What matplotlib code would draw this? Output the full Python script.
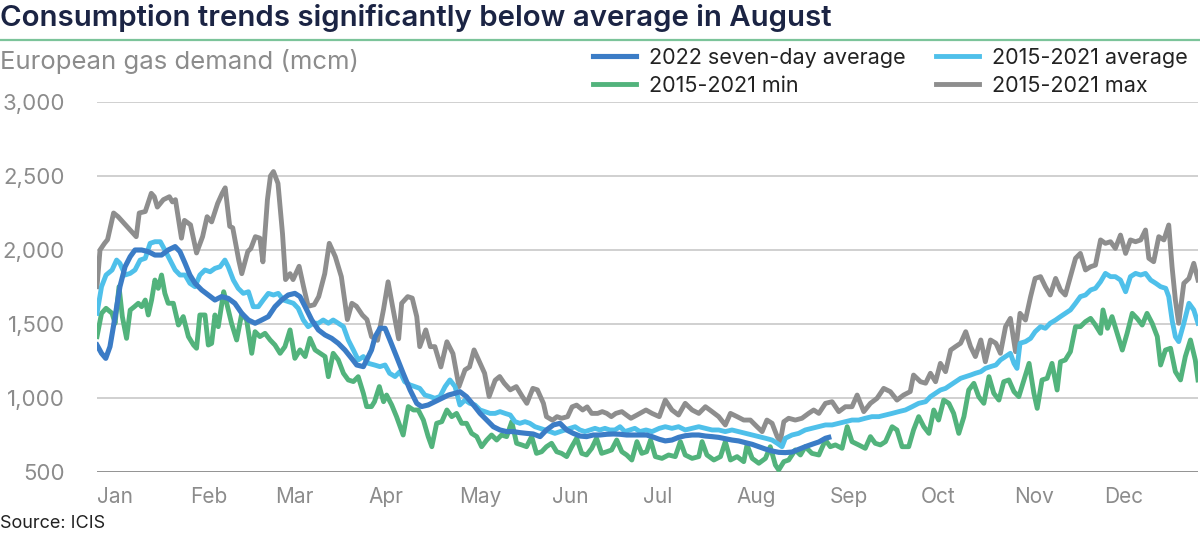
import matplotlib.pyplot as plt

plt.rcParams['font.family'] = ['Inter', 'DejaVu Sans']

titulo = "Consumption trends significantly below average in August"
subtitulo = "European gas demand (mcm)"
fuente = "Source: ICIS"
meses = ["Jan", "Feb", "Mar", "Apr", "May", "Jun", "Jul", "Aug", "Sep", "Oct", "Nov", "Dec"]
inicio_mes = [0, 31, 59, 90, 120, 151, 181, 212, 243, 273, 304, 334]
y_ticks = [500, 1000, 1500, 2000, 2500, 3000]

# 2015-2021 max (dia del año, mcm)
max_dias = [0, 1, 2.5, 3.5, 5.5, 7, 9, 11, 13, 14, 16, 18, 19, 20, 22, 24, 25, 26, 28, 29,
            31, 33, 35, 36.5, 38, 40, 41.5, 42.5, 44, 45, 47, 48, 50, 51, 52.5, 54, 55, 56.5, 57.5, 58.5,
            60, 61.5, 62.5, 64, 65, 67, 68.5, 70, 72, 73.5, 75.5, 77, 79, 81, 83, 84.5, 86, 88, 89.5, 91,
            93, 95, 96.5, 98, 100, 101, 103, 104.5, 106, 107, 109, 110.5, 112, 114, 116, 118, 120, 122, 123.5, 125,
            127, 128.5, 130, 132, 133.5, 135, 137, 139, 141, 142.5, 144.5, 146, 148, 149, 151, 152.5, 154, 156, 157.5, 159,
            161, 162.5, 164, 166, 167.5, 169, 170.5, 172, 174, 175.5, 177, 179, 181, 182, 184, 186.4, 188.4, 190.6, 192.8, 195,
            197.3, 199.5, 201.7, 203.9, 206.1, 208.3, 210, 212.2, 214.4, 216.6, 218.8, 220.5, 222.1, 223.8, 225.5, 226.5, 227.7, 229.3, 231.5, 233.7,
            235.9, 237.6, 239.3, 241.5, 243.7, 245.9, 248.1, 250.3, 252, 254.2, 256.4, 258.6, 260.8, 263, 265.2, 267.4, 269.6, 270.7, 273, 274.7,
            276.3, 278, 279.6, 281.3, 283, 284.6, 286.3, 288, 289.6, 291.2, 293, 294.5, 296.2, 298, 299.5, 301.2, 302.8, 304.5, 306, 307.8,
            309.5, 311, 312.8, 314.4, 316, 317.8, 319.4, 321, 322.7, 324.4, 326, 327.7, 329.4, 331, 332.7, 334.3, 336, 337.6, 339.3, 341,
            342.6, 344.3, 346, 347.6, 348.7, 350.3, 352, 353.7, 355.3, 356.4, 357.5, 358.6, 360.3, 362, 363.6, 365]
max_vals = [1752, 2000, 2045, 2070, 2250, 2225, 2180, 2135, 2090, 2250, 2260, 2383, 2360, 2290, 2340, 2360, 2325, 2340, 2080, 2200,
            2170, 1980, 2090, 2225, 2190, 2315, 2383, 2420, 2160, 2150, 1930, 1840, 1990, 2010, 2090, 2080, 1920, 2340, 2500, 2530,
            2450, 2110, 1800, 1840, 1800, 1890, 1750, 1620, 1630, 1685, 1840, 2045, 1955, 1820, 1530, 1640, 1620, 1560, 1530, 1415,
            1390, 1600, 1785, 1617, 1400, 1640, 1685, 1675, 1550, 1347, 1460, 1347, 1347, 1210, 1380, 1300, 1077, 1190, 1210, 1325,
            1235, 1167, 1010, 1120, 1145, 1100, 1055, 1077, 1010, 964, 1065, 1055, 964, 874, 850, 874, 863, 874, 940, 952,
            919, 940, 896, 896, 908, 896, 874, 896, 908, 885, 863, 885, 908, 919, 896, 874, 986, 919, 885, 964,
            919, 896, 941, 908, 874, 818, 896, 874, 851, 851, 806, 773, 851, 829, 739, 705, 840, 863, 851, 863,
            896, 919, 896, 964, 975, 908, 941, 941, 1020, 908, 964, 998, 1065, 1043, 986, 1020, 1043, 1155, 1110, 1100,
            1167, 1110, 1234, 1178, 1324, 1347, 1370, 1448, 1347, 1280, 1392, 1245, 1392, 1370, 1302, 1482, 1538, 1313, 1572, 1527,
            1685, 1808, 1820, 1752, 1696, 1808, 1730, 1696, 1820, 1944, 1977, 1865, 1887, 1898, 2068, 2045, 2056, 2011, 2101, 1977,
            2068, 2056, 2068, 2135, 1944, 1921, 2090, 2068, 2169, 1887, 1662, 1505, 1775, 1808, 1910, 1797]

# 2015-2021 average
avg_dias = [0, 1.5, 3, 5, 6.5, 7.6, 9.3, 11, 12.6, 14.3, 16, 17.6, 19.2, 21, 22.5, 24.2, 25.9, 27.5, 29.2, 30.8,
            32.5, 34.1, 35.8, 37.5, 39.1, 40.8, 42.4, 43.5, 45.2, 46.8, 48.5, 50.2, 51.8, 53.5, 55.1, 56.8, 58.5, 60.1, 61.8, 63.4,
            65.1, 66.7, 68.4, 70, 71.7, 73.4, 75, 76.7, 78.3, 80, 81.7, 83.3, 85, 86.6, 88.3, 90, 92, 93.8, 95.5, 97,
            98.8, 100.4, 102, 103.8, 105.4, 107, 108.7, 110.4, 112, 113.7, 115.4, 117, 118.7, 120.3, 122, 123.6, 125.3, 127, 128.6, 130.3,
            132, 133.6, 135.3, 137, 138.6, 140.2, 141.9, 143.5, 145.2, 146.9, 148.5, 150.2, 151.8, 153.5, 155.1, 156.8, 158.5, 160.1, 161.8, 163.4,
            165.1, 166.7, 168.4, 170, 171.7, 173.4, 175, 176.7, 178.3, 180, 182, 184, 186.4, 188.4, 190.6, 192.8, 195, 197.3, 199.5, 201.7,
            203.9, 206.1, 208.3, 210.5, 212.7, 215, 217.2, 219.4, 221.6, 223.8, 225.5, 227.1, 228.2, 230.4, 232.6, 234.8, 237, 239.3, 241.5, 243.7,
            245.9, 248.1, 250.3, 252.5, 254.7, 256.9, 259.2, 261.4, 263.6, 265.8, 268, 270.2, 272.4, 274.7, 276.3, 278, 279.6, 281.3, 283, 284.6,
            286.3, 288, 289.6, 291.2, 293, 294.5, 296.2, 298, 299.5, 301.2, 302.8, 304, 305, 306, 307.8, 309.5, 311, 312.8, 314.4, 316,
            317.8, 319.4, 321, 322.7, 324.4, 326, 327.7, 329.4, 331, 332.7, 334.3, 336, 337.6, 339.3, 341, 342.6, 344.3, 346, 347.6, 349.3,
            351, 352.6, 354.3, 355.3, 356.4, 357.5, 358.6, 360.3, 362, 363.6, 365]
avg_vals = [1572, 1752, 1831, 1865, 1932, 1910, 1831, 1842, 1865, 1932, 1944, 2045, 2056, 2056, 2000, 1932, 1865, 1831, 1831, 1775,
            1752, 1831, 1865, 1853, 1876, 1887, 1932, 1887, 1797, 1741, 1707, 1718, 1617, 1617, 1662, 1707, 1696, 1707, 1662, 1651,
            1640, 1606, 1527, 1482, 1505, 1505, 1527, 1505, 1527, 1505, 1482, 1392, 1324, 1257, 1280, 1234, 1223, 1212, 1223, 1167,
            1145, 1178, 1110, 1088, 1077, 1065, 1020, 1010, 998, 1010, 1077, 1122, 1077, 953, 986, 964, 953, 919, 908, 896,
            896, 908, 896, 885, 840, 829, 840, 829, 806, 795, 784, 773, 761, 773, 784, 795, 806, 784, 773, 784,
            795, 784, 795, 784, 784, 806, 773, 784, 795, 773, 784, 773, 795, 806, 795, 806, 784, 795, 806, 795,
            784, 784, 773, 784, 773, 761, 750, 739, 728, 716, 694, 671, 728, 750, 761, 784, 795, 806, 818, 818,
            829, 840, 851, 851, 863, 874, 874, 885, 896, 908, 919, 941, 964, 975, 1009, 1032, 1054, 1065, 1088, 1110,
            1133, 1144, 1155, 1167, 1178, 1200, 1212, 1223, 1257, 1280, 1302, 1234, 1200, 1370, 1381, 1403, 1448, 1482, 1471, 1505,
            1527, 1550, 1572, 1595, 1640, 1685, 1696, 1730, 1741, 1786, 1842, 1820, 1820, 1797, 1718, 1820, 1842, 1831, 1842, 1797,
            1775, 1752, 1741, 1685, 1527, 1414, 1381, 1505, 1640, 1595, 1505]

# 2015-2021 min
min_dias = [0, 1.5, 3, 5, 6, 7.3, 8.4, 9.8, 11, 12.4, 13.7, 14.8, 16, 17, 18.1, 19.2, 20.3, 21.4, 22.5, 23.6,
            25.3, 27, 28.6, 30.3, 32, 33, 34.1, 35.8, 36.9, 38, 39.1, 40.2, 42, 43, 44.6, 46.3, 48, 49.6, 51.3, 52.4,
            54, 55.7, 57.4, 59, 60.7, 62.3, 64, 65.6, 67.3, 69, 70.6, 72.3, 74, 75.6, 76.7, 78.3, 80, 81.7, 83.3, 85,
            86.6, 88.3, 89.4, 91, 92, 93.6, 95, 96, 97.7, 99.3, 101.5, 103.2, 104.9, 106.5, 108.2, 109.8, 111, 112.6, 114.3, 116,
            117.6, 119.2, 120.9, 122.5, 124.2, 125.9, 127.5, 129.2, 130.8, 132.5, 134.1, 135.8, 137.5, 139.1, 140.8, 142.4, 144.1, 145.7, 147.4, 149,
            150.7, 152.4, 154, 155.7, 157.4, 159, 160.7, 162.3, 164, 165.6, 167.3, 169, 170.6, 172.3, 174, 175.6, 177.3, 179, 180.6, 182.2,
            183.5, 185.1, 187.3, 189.5, 191.7, 193.4, 195, 197.3, 199.5, 200.6, 202.2, 204.5, 206.7, 208.3, 210, 212.2, 214.4, 215.5, 217.2, 219.4,
            221.6, 223.2, 224.9, 226, 227.7, 229.3, 231.5, 233.2, 234.8, 237, 239.3, 241.5, 243.1, 244.8, 247, 248.7, 250.3, 252.5, 254.7, 256.4,
            258, 259.7, 261.4, 263.6, 265.2, 266.9, 269.1, 270.7, 272.4, 274.1, 275.8, 277.4, 279, 280.7, 282.4, 284, 285.7, 287.4, 289, 290.7,
            292.3, 294, 295.7, 297.3, 299, 300.6, 302.3, 304, 305.6, 307.3, 309, 310.6, 311.7, 313.3, 315, 316.6, 318.3, 319.4, 321, 322.7,
            324.4, 326, 327.7, 329.4, 331, 332.7, 333.5, 335, 336.5, 338.2, 339.9, 341.5, 343.2, 344.8, 346.5, 348.1, 349.8, 351.5, 352.6, 354.2,
            355.9, 357.5, 359.2, 360.8, 362.5, 364.1, 365]
min_vals = [1415, 1572, 1606, 1572, 1505, 1752, 1550, 1403, 1594, 1617, 1640, 1617, 1662, 1561, 1662, 1797, 1741, 1831, 1707, 1640,
            1640, 1493, 1550, 1415, 1358, 1336, 1561, 1561, 1358, 1369, 1561, 1482, 1718, 1640, 1505, 1392, 1572, 1527, 1302, 1448,
            1415, 1437, 1392, 1358, 1302, 1347, 1460, 1268, 1325, 1280, 1403, 1325, 1302, 1280, 1144, 1302, 1257, 1167, 1122, 1111,
            1144, 1032, 942, 942, 975, 1077, 975, 1020, 953, 874, 750, 942, 919, 919, 851, 739, 671, 829, 840, 919,
            874, 896, 829, 829, 761, 739, 671, 716, 750, 716, 750, 739, 840, 694, 683, 671, 739, 626, 637, 671,
            694, 637, 626, 604, 671, 728, 626, 615, 660, 728, 626, 637, 649, 716, 637, 615, 581, 705, 626, 637,
            716, 604, 592, 615, 604, 705, 615, 592, 604, 705, 615, 581, 604, 705, 581, 604, 570, 683, 592, 559,
            592, 671, 547, 514, 570, 581, 649, 615, 671, 626, 615, 716, 671, 683, 660, 806, 705, 683, 660, 739,
            694, 683, 705, 806, 784, 671, 671, 784, 874, 806, 761, 919, 851, 986, 964, 896, 761, 874, 1054, 1099,
            1009, 964, 1144, 1032, 986, 1110, 1122, 1043, 1009, 1122, 1234, 1032, 930, 1122, 1133, 1234, 1054, 1245, 1257, 1313,
            1482, 1482, 1516, 1538, 1493, 1437, 1595, 1471, 1550, 1437, 1324, 1437, 1572, 1538, 1493, 1572, 1505, 1415, 1223, 1324,
            1336, 1178, 1122, 1280, 1392, 1257, 1122]

# 2022 seven-day average
d2022_dias = [0, 1.5, 2.9, 4.3, 6, 7.6, 9.3, 11, 12.6, 14.8, 17, 19.2, 21.4, 23.6, 25.9, 27.5, 29.2, 30.8, 32.5, 34.7,
              36.9, 39.1, 41.3, 43.5, 45.7, 48, 50.2, 52.4, 54.6, 56.8, 59, 61.2, 63.4, 65.6, 67.3, 69, 71.2, 73.4, 75.6, 77.8,
              80, 82.2, 84.4, 86.1, 88.3, 89.4, 91, 92.2, 93.8, 95.5, 97.1, 99.3, 101.5, 103.8, 106, 107.6, 109.8, 112, 114.3, 116.5,
              118.7, 120.3, 122.5, 124.8, 127, 129.2, 131.4, 133.6, 135.8, 138, 140.2, 142.4, 144.6, 146.9, 149, 151.3, 153.5, 155.7, 157.9, 160.1,
              162.3, 164.5, 166.7, 169, 171.2, 173.4, 175.6, 177.8, 180, 182.2, 184, 186.4, 188.4, 190.6, 192.8, 195, 197.3, 199.5, 201.7, 203.9,
              206.1, 208.3, 210.5, 212.7, 215, 217.2, 219.4, 221.6, 223.8, 226, 228.2, 230.4, 232.6, 234.8, 237, 239.3, 241.5, 242.6]
d2022_vals = [1358, 1302, 1268, 1347, 1550, 1752, 1887, 1955, 2000, 2000, 1989, 1966, 1966, 2000, 2023, 1989, 1910, 1831, 1775, 1730,
              1696, 1662, 1685, 1673, 1640, 1572, 1527, 1505, 1527, 1550, 1617, 1662, 1696, 1707, 1685, 1617, 1527, 1460, 1426, 1403,
              1369, 1324, 1268, 1223, 1212, 1257, 1324, 1414, 1471, 1471, 1392, 1280, 1167, 1054, 964, 942, 953, 975, 998, 1020,
              1032, 1043, 1009, 953, 896, 851, 806, 784, 773, 773, 766, 761, 757, 739, 784, 818, 829, 784, 761, 743,
              739, 750, 750, 755, 757, 755, 750, 750, 750, 750, 739, 721, 710, 716, 734, 745, 750, 750, 743, 739,
              734, 725, 716, 710, 698, 687, 671, 655, 642, 633, 631, 635, 653, 671, 687, 703, 728, 734]

c_max = '#8e8e8e'
c_min = '#52b37c'
c_avg = '#4fc0ea'
c_2022 = '#3b7cc6'
c_gris = '#8c8c8c'

fig = plt.figure(figsize=(12, 5.38), dpi=100)
ax = fig.add_axes([97 / 1200, 1 - 472 / 538, (1198 - 97) / 1200, (472 - 102) / 538])

for y in y_ticks[1:]:
    ax.axhline(y, color='#c4c4c4', lw=1.1, zorder=0)
ax.axhline(500, color='#8a8a8a', lw=1.3, zorder=0)

l_max, = ax.plot(max_dias, max_vals, color=c_max, lw=3.5, label='2015-2021 max', zorder=2, solid_joinstyle='round')
l_min, = ax.plot(min_dias, min_vals, color=c_min, lw=3.5, label='2015-2021 min', zorder=3, solid_joinstyle='round')
l_avg, = ax.plot(avg_dias, avg_vals, color=c_avg, lw=3.5, label='2015-2021 average', zorder=4, solid_joinstyle='round')
l_22, = ax.plot(d2022_dias, d2022_vals, color=c_2022, lw=3.7, label='2022 seven-day average', zorder=5, solid_joinstyle='round')

ax.set_xlim(0, 365)
ax.set_ylim(500, 3000)
ax.set_yticks(y_ticks)
ax.set_yticklabels([f"{v:,}" for v in y_ticks], color=c_gris, fontsize=16)
ax.set_xticks(inicio_mes)
ax.set_xticklabels(meses, color=c_gris, fontsize=15, ha='left')
ax.tick_params(axis='y', length=0, pad=23)
ax.tick_params(axis='x', length=0, pad=11)
for s in ax.spines.values():
    s.set_visible(False)

fig.text(0.0, 1 - 18 / 538, titulo, fontsize=21.2, color='#1b2444', va='center', ha='left', fontweight='semibold')
fig.add_artist(plt.Line2D([0, 1], [1 - 40 / 538, 1 - 40 / 538], color='#7cc49a', lw=1.6))
fig.text(0.0, 1 - 61 / 538, subtitulo, fontsize=18.5, color=c_gris, va='center', ha='left')
fig.text(0.0, 1 - 523 / 538, fuente, fontsize=13, color='#222222', va='center', ha='left')

fig.legend([l_22, l_min, l_avg, l_max],
           ['2022 seven-day average', '2015-2021 min', '2015-2021 average', '2015-2021 max'],
           ncol=2, loc='upper left', bbox_to_anchor=(593 / 1200, 1 - 48 / 538), frameon=False,
           fontsize=15.5, handlelength=2.0, handletextpad=0.6, columnspacing=1.4, labelspacing=0.35,
           labelcolor='#222222', borderaxespad=0, borderpad=0)

fig.savefig('out.png', dpi=100)
